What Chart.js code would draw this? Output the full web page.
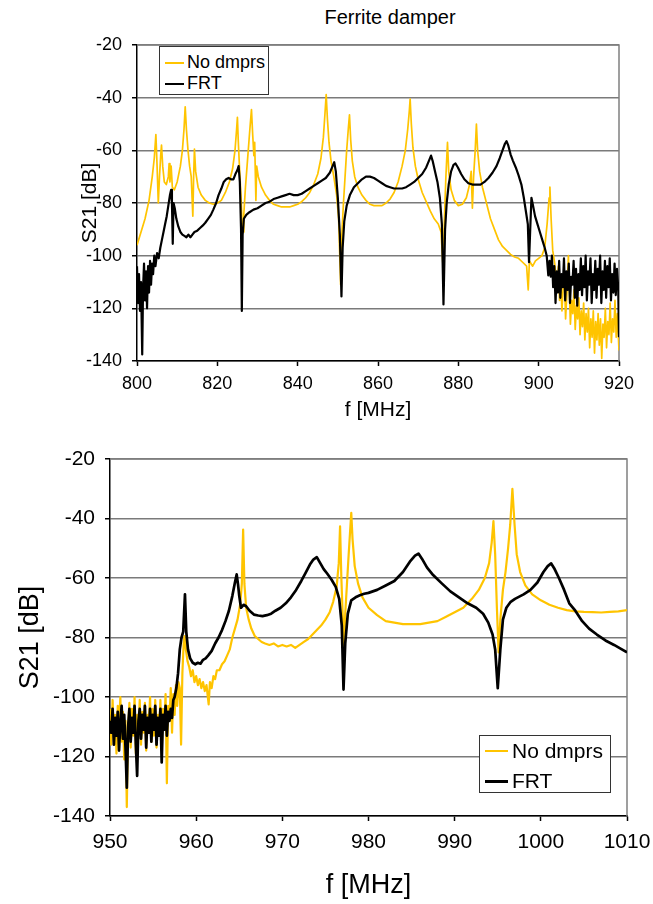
<!DOCTYPE html>
<html>
<head>
<meta charset="utf-8">
<script src="https://cdn.jsdelivr.net/npm/chart.js@4.4.1/dist/chart.umd.min.js"></script>
<style>
html,body{margin:0;padding:0;background:#fff;}
body{width:653px;height:904px;position:relative;overflow:hidden;font-family:"Liberation Sans",Arial,sans-serif;color:#000;}
canvas{position:absolute;left:0;}
#c1{top:0;}
#c2{top:425px;}
#title{position:absolute;left:290px;width:200px;top:5px;text-align:center;font-size:20px;line-height:24px;}
.legend{position:absolute;background:#fff;border:1px solid #333;box-sizing:border-box;}
.legend .swatch{position:absolute;}
.legend .txt{position:absolute;white-space:nowrap;}
</style>
</head>
<body>
<div id="title">Ferrite damper</div>
<canvas id="c1" width="653" height="425"></canvas>
<canvas id="c2" width="653" height="479"></canvas>
<script>
// ---------------- DATA ----------------
const seriesNames = ["No dmprs", "FRT"];
const seriesColors = ["#FFC400", "#000000"];

// Top chart (800-920 MHz)
const topXTicks = [800, 820, 840, 860, 880, 900, 920];
const topYTicks = [-140, -120, -100, -80, -60, -40, -20];

const topNoDmprsFreq = [
  800, 801, 802, 803, 803.8, 804.3, 804.7, 805.0, 805.3, 805.6, 805.9, 806.1, 806.4, 806.8, 807.3, 807.8,
  808.0, 808.2, 808.5, 808.8, 809.3, 810.0, 810.8, 811.3, 811.7, 812.0, 812.3, 812.7, 813.1, 813.5, 813.9, 814.1,
  814.3, 814.6, 815.2, 816, 817, 818, 819, 820, 821, 822, 823, 823.8, 824.4, 824.8, 825.0, 825.2,
  825.5, 825.9, 826.2, 826.4, 826.6, 827.0, 827.5, 827.9, 828.2, 828.5, 828.8, 829.1, 829.3, 829.6, 829.8, 830.2,
  831, 832, 833, 834, 835, 836, 837, 838, 839, 840, 841, 842, 843, 844, 845, 845.8,
  846.4, 846.8, 847.1, 847.4, 847.8, 848.3, 849, 849.7, 850.2, 850.7, 851.0, 851.4, 851.8, 852.2, 852.6, 852.9,
  853.2, 853.6, 854.2, 855, 856, 857, 858, 859, 860, 861, 862, 863, 864, 865, 866, 866.8,
  867.4, 867.8, 868.0, 868.3, 868.7, 869.3, 870, 871, 872, 873, 874, 875, 875.7, 876.2, 876.5, 876.9,
  877.3, 877.6, 878.2, 879, 880, 881, 882, 882.8, 883.2, 883.5, 883.8, 884.2, 884.5, 884.8, 885.3, 886,
  887, 888, 889, 890, 891, 892, 893, 894, 895, 896, 897, 897.4, 897.7, 898.5, 899.2, 900,
  900.8, 901.5, 902.1, 902.6, 902.8, 903.1, 903.5, 904,
  904.3, 904.6, 904.9, 905.2, 905.5, 905.8, 906.1, 906.4, 906.7, 907.0, 907.4, 907.6, 907.9, 908.2, 908.5, 908.8,
  909.1, 909.4, 909.7, 910.0, 910.3, 910.6, 910.9, 911.2, 911.5, 911.8, 912.1, 912.4, 912.7, 913.0, 913.3, 913.6,
  913.9, 914.2, 914.5, 914.8, 915.1, 915.4, 915.7, 916.0, 916.3, 916.6, 916.9, 917.2, 917.5, 917.8, 918.1, 918.4,
  918.7, 919.0, 919.3, 919.6, 920
];
const topNoDmprsDb = [
  -96, -91, -86, -79, -70, -63, -54, -66, -80, -70, -62, -58, -66, -72, -73, -70,
  -65, -72, -66, -74, -75, -72, -66, -60, -52, -43.5, -52, -60, -66, -70, -85, -70,
  -59.5, -68, -74, -77, -79, -80, -80.5, -80, -79, -76, -72, -67, -60, -52, -47.5, -56,
  -66, -78, -88, -91, -84, -74, -64, -56, -50, -44.5, -54, -62, -57, -79, -66, -70,
  -74, -77, -79, -80.5, -81, -81.5, -81.5, -81.5, -81, -80.5, -79.5, -78, -76, -73, -69, -63,
  -55, -46, -38.8, -48, -57, -64, -70, -77, -86, -111, -92, -80, -70, -60, -52, -46.5,
  -56, -64, -70, -74, -77, -79, -80.5, -81, -81, -81, -80, -78.5, -76, -72, -66, -60,
  -52, -45, -40.5, -50, -59, -66, -71, -76, -79.5, -83, -86, -88, -91, -104.5, -88, -70,
  -57, -68, -75, -79, -81, -80.5, -78, -73, -68, -82, -70, -60, -50, -60, -68, -74,
  -80, -86, -90, -94, -96.5, -98, -99.5, -100.5, -101, -102.5, -104, -113, -102, -104, -102, -101,
  -100, -97, -88, -78, -74, -86, -98, -103,
  -108, -112, -104, -117, -110, -121, -112, -107, -124, -115, -100, -111, -126, -117, -122, -113,
  -128, -119, -124, -116, -130, -121, -127, -118, -132, -122, -129, -120, -135, -124, -131, -121,
  -137, -125, -132, -122, -134, -124, -139, -126, -131, -120, -135, -125, -130, -118, -133, -124,
  -129, -117, -131, -122, -136
];

const topFrtFreq = [
  800.0, 800.25, 800.5, 800.75, 801.0, 801.3, 801.5, 801.75, 802.0, 802.25, 802.5, 802.75, 803.0, 803.25, 803.5, 803.75,
  804.0, 804.3, 804.6, 805.0, 805.4, 805.8, 806.2, 806.6, 807.0, 807.4, 807.8, 808.2, 808.5, 808.7, 808.9, 809.1,
  809.4, 809.8, 810.3, 810.8, 811.3, 811.8, 812.3, 812.8, 813.3, 813.8, 814.3, 815, 815.7, 816.4, 817, 817.7,
  818.4, 819, 819.7, 820.3, 821, 821.6, 822.2, 822.8, 823.4, 824.0, 824.5, 825.0, 825.3, 825.6, 825.9, 826.1,
  826.3, 826.6, 827.2, 828, 829, 830,
  831, 832, 833, 834, 835, 836, 837, 838, 839, 840, 841, 842, 843, 844, 845, 846,
  847, 848, 848.7, 849.1, 849.5, 850.0, 850.5, 850.9, 851.2, 851.6, 852.2, 853, 854, 855, 856, 857,
  858, 859, 860, 861, 862, 863, 864, 865, 866, 867, 868, 869, 870, 871, 872, 872.8,
  873.2, 873.6, 874.2, 874.8, 875.4, 875.9, 876.3, 876.7, 877.1, 877.6, 878.2, 878.8, 879.3, 879.9, 880.7, 881.5,
  882.5, 883.5, 884.5, 885.5, 886.5, 887.5, 888.5, 889.5, 890.3, 891, 891.6, 892, 892.4, 893, 893.6, 894.3,
  895, 895.7, 896.3, 896.9, 897.3, 897.6, 897.9, 898.2, 898.6, 899.1, 899.7, 900.3, 900.9, 901.5, 902, 902.4,
  902.7, 903, 903.3, 903.6, 903.9, 904.2, 904.5, 904.8, 905.1, 905.4, 905.7, 906, 906.3, 906.6, 906.9, 907.2,
  907.5, 907.8, 908.1, 908.4, 908.7, 909, 909.3, 909.6, 909.9, 910.2, 910.5, 910.8, 911.1, 911.4, 911.7, 912,
  912.3, 912.6, 912.9, 913.2, 913.5, 913.8, 914.1, 914.4, 914.7, 915, 915.3, 915.6, 915.9, 916.2, 916.5, 916.8,
  917.1, 917.4, 917.7, 918, 918.3, 918.6, 918.9, 919.2, 919.5, 919.8, 920
];
const topFrtDb = [
  -104, -118, -107, -121, -110, -137.5, -113, -103, -117, -106, -120, -104, -114, -102, -111, -103,
  -107, -100, -104, -99, -101, -97, -94, -91, -88, -85, -81, -77, -75, -80, -95.5, -80,
  -82, -86, -89, -91, -92, -92.5, -93, -92, -93, -92, -91, -90.5, -89.5, -88.5, -87.5, -86,
  -84.5, -82.5, -80, -77, -74.5, -72, -71, -70.5, -71, -71, -69, -67.5, -66, -72, -90, -121,
  -92, -86, -84.5, -83.5, -82.5, -82,
  -81, -80, -79.5, -78.5, -78, -77.5, -77, -76.5, -77, -77, -76.5, -75.5, -74.5, -73.5, -72.5, -71.5,
  -70.5, -68.5, -66, -64.5, -68, -78, -92, -115.5, -97, -87, -81, -77, -74, -72.5, -71, -70,
  -70, -70.5, -71.5, -72.5, -73.5, -74, -74.5, -74.5, -74.5, -74, -73, -72, -70.5, -69, -66.5, -63.5,
  -62, -64, -68, -72, -78, -88, -118.5, -90, -80, -73, -68, -65.5, -65, -66.5, -69, -71,
  -72.5, -73, -73, -73, -72, -70.5, -68.5, -66, -63, -60, -57.5, -56.5, -58, -61.5, -64, -66.5,
  -69.5, -73, -78, -84, -88, -102.5, -90, -78, -81, -85, -88, -91, -94, -97, -100, -107.5,
  -102, -108, -100, -112, -104, -118, -106, -114, -102, -116, -107, -112, -101, -117, -106, -113,
  -103, -118, -108, -111, -102, -116, -105, -119, -107, -113, -101, -115, -104, -112, -100, -117,
  -106, -111, -101, -118, -107, -113, -102, -116, -105, -111, -100, -118, -106, -113, -102, -116,
  -104, -112, -101, -117, -107, -114, -103, -115, -105, -112, -131
];

// Bottom chart (950-1010 MHz)
const botXTicks = [950, 960, 970, 980, 990, 1000, 1010];
const botYTicks = [-140, -120, -100, -80, -60, -40, -20];

const botNoDmprsFreq = [
  950.0, 950.15, 950.3, 950.45, 950.6, 950.75, 950.9, 951.05, 951.2, 951.35, 951.5, 951.65, 951.8, 951.95, 952.1, 952.25,
  952.4, 952.55, 952.7, 952.85, 953.0, 953.15, 953.3, 953.45, 953.6, 953.75, 953.9, 954.05, 954.2, 954.35, 954.5, 954.65,
  954.8, 954.95, 955.1, 955.25, 955.4, 955.55, 955.7, 955.85, 956.0, 956.15, 956.3, 956.45, 956.6, 956.75, 956.9, 957.05,
  957.2, 957.35, 957.5, 957.65, 957.8, 957.95, 958.1,
  958.25, 958.4, 958.55, 958.65, 958.8, 959.0, 959.2, 959.4, 959.6, 959.8, 960.0, 960.2, 960.4, 960.6, 960.8, 961.0,
  961.2, 961.45, 961.6, 961.8, 962.0, 962.2, 962.4, 962.7, 963.0, 963.3, 963.6, 963.9, 964.2, 964.5, 964.8, 965.1,
  965.3, 965.45, 965.6, 965.8, 966.1, 966.4, 966.8, 967.2, 967.6, 968, 968.5, 969, 969.5, 970, 970.5, 971,
  971.5, 972, 972.5, 973, 973.5, 974, 974.5, 975, 975.5, 975.9, 976.3, 976.55, 976.7, 976.85, 977.0, 977.15,
  977.3, 977.5, 977.7, 977.85, 978.0, 978.15, 978.4, 978.8, 979.3, 980, 981, 982, 983, 984, 985, 986,
  987, 988, 989, 990, 991, 992, 992.8, 993.5, 994.0, 994.3, 994.5, 994.7, 994.9, 995.1, 995.3, 995.6,
  995.9, 996.2, 996.45, 996.7, 996.95, 997.2, 997.6, 998.2, 999, 1000, 1001, 1002, 1003, 1004, 1005, 1006,
  1007, 1008, 1009, 1010
];
const botNoDmprsDb = [
  -104, -116, -101, -112, -106, -119, -103, -110, -100, -115, -105, -121, -108, -137, -111, -102,
  -117, -104, -113, -100, -119, -106, -111, -101, -116, -105, -112, -102, -118, -106, -110, -100,
  -115, -104, -113, -101, -117, -106, -111, -101, -118, -104, -110, -99, -129, -103, -108, -97,
  -112, -99, -106, -96, -103, -95, -97,
  -116, -92, -82, -79.5, -84, -88, -90, -93, -91, -95, -93, -96, -94, -97, -95, -98,
  -96, -102.5, -95, -97, -93, -94, -91, -91, -89, -88, -86, -84, -80, -77, -74, -69,
  -62, -43.7, -62, -70, -74, -77, -79.5, -80.5, -81.5, -82, -82.5, -82, -83, -82.5, -83, -82.5,
  -83.5, -82.5, -81.5, -80.5, -79, -77.5, -76, -74, -71.5, -68, -63, -55, -42.6, -60, -72, -84,
  -72, -62, -52, -45, -38.1, -47, -56, -62, -66.5, -70, -72.5, -74.5, -75, -75.5, -75.5, -75.5,
  -75, -74.5, -73, -71.5, -70, -67, -64, -60, -55, -48, -40.9, -52, -70, -85, -74, -64,
  -58, -50, -42, -30, -42, -52, -58, -62.5, -65.5, -67.5, -69, -70, -70.8, -71.2, -71.4, -71.5,
  -71.6, -71.4, -71.2, -70.8
];

const botFrtFreq = [
  950.0, 950.15, 950.3, 950.45, 950.6, 950.75, 950.9, 951.05, 951.2, 951.35, 951.5, 951.65, 951.8, 951.95, 952.1, 952.25,
  952.4, 952.55, 952.7, 952.85, 953.0, 953.15, 953.3, 953.45, 953.6, 953.75, 953.9, 954.05, 954.2, 954.35, 954.5, 954.65,
  954.8, 954.95, 955.1, 955.25, 955.4, 955.55, 955.7, 955.85, 956.0, 956.15, 956.3, 956.45, 956.6, 956.75, 956.9, 957.05,
  957.2, 957.35,
  957.5, 957.7, 957.9, 958.1, 958.3, 958.5, 958.7, 958.85, 959.05, 959.3, 959.6, 959.9, 960.2, 960.5, 960.8, 961.1,
  961.4, 961.8, 962.2, 962.6, 963, 963.4, 963.8, 964.2, 964.5, 964.7, 964.85, 965.0, 965.2, 965.5, 965.8, 966.2,
  966.7, 967.2, 967.7, 968.2, 968.7, 969.2, 969.8, 970.4, 971, 971.6, 972.2, 972.7, 973.2, 973.6, 974.0, 974.4,
  974.8, 975.2, 975.7, 976.2, 976.6, 976.9, 977.1, 977.3, 977.6, 978, 978.5, 979, 979.5, 980, 981, 982,
  983, 984, 984.8, 985.4, 985.8, 986.2, 986.8, 987.5, 988.5, 989.5, 990.5, 991.5, 992.5, 993.3, 993.9, 994.4,
  994.7, 995.0, 995.3, 995.6, 996, 996.5, 997, 998, 998.8, 999.6, 1000.3, 1000.8, 1001.2, 1001.6, 1002.1, 1002.7,
  1003.3, 1004, 1004.8, 1005.6, 1006.5, 1007.5, 1008.5, 1009.3, 1010
];
const botFrtDb = [
  -108, -112, -104, -116, -107, -113, -105, -118, -109, -103, -114, -106, -117, -130.5, -110, -104,
  -115, -107, -112, -103, -116, -126.5, -108, -104, -114, -106, -111, -103, -117, -107, -112, -104,
  -115, -106, -111, -103, -116, -107, -113, -104, -122, -106, -111, -103, -113, -105, -108, -104,
  -107, -101,
  -100, -97, -92, -84, -80, -78, -65.5, -78, -84, -87, -88.5, -89, -88.5, -88.8, -87.5, -87,
  -86, -84.5, -82, -80, -77.5, -74.5, -71, -66, -61.5, -58.8, -62, -66, -70, -69, -69.5, -71,
  -72.3, -72.6, -72.8, -72.5, -72, -71, -70, -68.5, -66.5, -64, -61, -58.3, -55.5, -53.8, -53, -55,
  -57, -58.5, -60.5, -63, -67, -76, -97.5, -82, -72, -67.5, -66.5, -65.8, -65.3, -65, -64, -62.5,
  -61, -58, -54.5, -52.5, -51.8, -53.5, -56.5, -59, -61.8, -64.5, -66.5, -68.5, -70, -72, -75, -79,
  -84, -97, -84, -74, -70, -68, -67, -65.5, -64, -61.5, -58, -56, -55.1, -57, -60, -64,
  -68.5, -71, -74.5, -77, -79, -81, -82.5, -83.8, -85
];

// ---------------- HELPERS ----------------
function pairs(xs, ys, name) {
  if (xs.length !== ys.length) throw new Error(name + ": length mismatch " + xs.length + " vs " + ys.length);
  return xs.map((x, i) => ({ x: x, y: ys[i] }));
}

Chart.defaults.font.family = '"Liberation Sans", Arial, sans-serif';
Chart.defaults.color = '#000';

const frameBorder = {
  id: 'frameBorder',
  beforeDatasetsDraw(chart) {
    const a = chart.chartArea, ctx = chart.ctx;
    ctx.save();
    ctx.strokeStyle = '#808080';
    ctx.lineWidth = 1.5;
    ctx.beginPath();
    ctx.moveTo(a.left, a.top);
    ctx.lineTo(a.right, a.top);
    ctx.lineTo(a.right, a.bottom);
    ctx.stroke();
    ctx.restore();
  }
};

function makeChart(canvasId, cfg) {
  return new Chart(document.getElementById(canvasId), {
    type: 'line',
    data: {
      datasets: [
        { label: seriesNames[0], data: pairs(cfg.xs[0], cfg.ys[0], seriesNames[0]), borderColor: seriesColors[0],
          backgroundColor: seriesColors[0], borderWidth: cfg.lw[0], pointRadius: 0, tension: 0, order: 2,
          borderJoinStyle: 'round', fill: false },
        { label: seriesNames[1], data: pairs(cfg.xs[1], cfg.ys[1], seriesNames[1]), borderColor: seriesColors[1],
          backgroundColor: seriesColors[1], borderWidth: cfg.lw[1], pointRadius: 0, tension: 0, order: 1,
          borderJoinStyle: 'round', fill: false }
      ]
    },
    options: {
      responsive: false,
      animation: false,
      events: [],
      layout: { padding: cfg.pad },
      plugins: { legend: { display: false }, tooltip: { enabled: false }, title: { display: false } },
      scales: {
        x: {
          type: 'linear',
          min: cfg.xTicks[0], max: cfg.xTicks[cfg.xTicks.length - 1],
          afterBuildTicks: (s) => { s.ticks = cfg.xTicks.map(v => ({ value: v })); },
          ticks: { font: { size: cfg.tickFont }, color: '#000', padding: cfg.xTickPad, maxRotation: 0, autoSkip: false,
                   callback: (v) => String(v) },
          grid: { drawOnChartArea: false, drawTicks: true, tickLength: 5, tickColor: '#000', tickWidth: 1.5 },
          border: { color: '#000', width: 1.5 },
          title: { display: true, text: 'f [MHz]', font: { size: cfg.titleFont }, color: '#000',
                   padding: { top: 0, bottom: cfg.xTitlePad } },
          afterFit: (s) => { s.height = cfg.xAxisH; s.paddingLeft = 0; s.paddingRight = 0; }
        },
        y: {
          type: 'linear',
          min: cfg.yTicks[0], max: cfg.yTicks[cfg.yTicks.length - 1],
          afterBuildTicks: (s) => { s.ticks = cfg.yTicks.map(v => ({ value: v })); },
          ticks: { font: { size: cfg.yTickFont }, color: '#000', padding: 10, callback: (v) => String(v) },
          grid: { color: '#7a7a7a', lineWidth: 1.5, drawTicks: true, tickLength: 5, tickColor: '#000', tickWidth: 1.5 },
          border: { color: '#000', width: 1.5 },
          title: { display: true, text: 'S21 [dB]', font: { size: cfg.titleFont }, color: '#000',
                   padding: { top: cfg.yTitlePad, bottom: 0 } },
          afterFit: (s) => { s.width = cfg.yAxisW; s.paddingTop = 0; s.paddingBottom = 0; }
        }
      }
    },
    plugins: [frameBorder]
  });
}

function makeLegend(chart, box) {
  const div = document.createElement('div');
  div.className = 'legend';
  Object.assign(div.style, { left: box.left + 'px', top: box.top + 'px', width: box.w + 'px', height: box.h + 'px' });
  chart.data.datasets.forEach((ds, i) => {
    const cy = box.rows[i];
    const sw = document.createElement('div');
    sw.className = 'swatch';
    const th = box.sw[i];
    Object.assign(sw.style, { left: box.swLeft + 'px', width: box.swW + 'px', top: (cy - th / 2) + 'px',
                              height: th + 'px', background: ds.borderColor });
    const t = document.createElement('div');
    t.className = 'txt';
    t.textContent = ds.label;
    Object.assign(t.style, { left: box.txtLeft + 'px', top: (cy - box.font * 0.6) + 'px', fontSize: box.font + 'px',
                             lineHeight: (box.font * 1.2) + 'px' });
    div.appendChild(sw);
    div.appendChild(t);
  });
  document.body.appendChild(div);
}

// ---------------- CHARTS ----------------
const topChart = makeChart('c1', {
  xs: [topNoDmprsFreq, topFrtFreq], ys: [topNoDmprsDb, topFrtDb], lw: [1.7, 2.2],
  xTicks: topXTicks, yTicks: topYTicks,
  pad: { top: 45, right: 34, left: 0, bottom: 0 },
  tickFont: 18, yTickFont: 18, titleFont: 21, xTickPad: 7, xTitlePad: 2, yTitlePad: 78,
  xAxisH: 64, yAxisW: 137
});
makeLegend(topChart, { left: 159, top: 46, w: 110, h: 49, rows: [16, 37], sw: [2, 2.5], swLeft: 5, swW: 19,
                       txtLeft: 27, font: 18 });

const botChart = makeChart('c2', {
  xs: [botNoDmprsFreq, botFrtFreq], ys: [botNoDmprsDb, botFrtDb], lw: [2.2, 2.7],
  xTicks: botXTicks, yTicks: botYTicks,
  pad: { top: 34, right: 26, left: 0, bottom: 0 },
  tickFont: 21, yTickFont: 21, titleFont: 27, xTickPad: 9, xTitlePad: 2, yTitlePad: 14,
  xAxisH: 88, yAxisW: 110
});
makeLegend(botChart, { left: 479, top: 735, w: 132, h: 58, rows: [15, 45], sw: [2, 3], swLeft: 5, swW: 23,
                       txtLeft: 32, font: 21 });
</script>
</body>
</html>
